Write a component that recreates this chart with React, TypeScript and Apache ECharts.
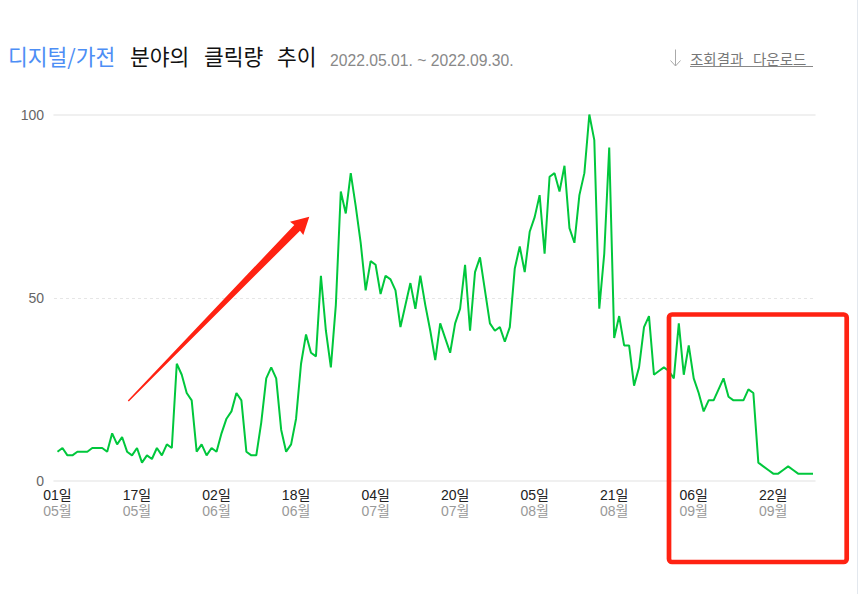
import React, { useEffect, useRef } from "react";
import * as echarts from "echarts";

// Daily click index, 2022-05-01 .. 2022-09-30 (153 days)
const startYear = 2022;
const startMonth = 5; // May
const startDay = 1;
const clicks: number[] = [
  8, 9, 7, 7, 8, 8, 8, 9, 9, 9, 8,
  13, 10, 12, 8, 7, 9, 5, 7, 6, 9, 7, 10, 9,
  32, 29, 24, 22, 8, 10, 7, 9, 8,
  13, 17, 19, 24, 22, 8, 7, 7, 16, 28, 31, 28, 14, 8, 10,
  17, 32, 40, 35, 34, 56, 41, 31, 48,
  79, 73, 84, 75, 65, 52, 60, 59, 51, 56, 55, 52,
  42, 48, 54, 47, 56, 48, 41, 33, 43, 39, 35, 43,
  47, 59, 41, 57, 61, 52, 43, 41, 42, 38, 42,
  58, 64, 57, 68, 72, 78, 62, 83, 84,
  79, 86, 69, 65, 78, 84, 100, 93, 47, 62, 91,
  39, 45, 37, 37, 26, 31, 42, 45, 29, 30, 31,
  30, 28, 43, 29, 37, 28, 24, 19, 22, 22, 25, 28, 23, 22, 22, 22, 25, 24,
  5, 4, 3, 2, 2, 3, 4, 3, 2, 2, 2, 2,
];
const tickIndices: number[] = [0, 16, 32, 48, 64, 80, 96, 112, 128, 144];
const yTicks: number[] = [0, 50, 100];

const titleCategory = "디지털/가전";
const titleWords = ["분야의", "클릭량", "추이"];
const dateRange = "2022.05.01. ~ 2022.09.30.";
const downloadWords = ["조회결과", "다운로드"];

const pad = (n: number) => (n < 10 ? "0" + n : "" + n);
const dates = clicks.map((_, i) => {
  const d = new Date(startYear, startMonth - 1, startDay + i);
  return { day: pad(d.getDate()), month: pad(d.getMonth() + 1) };
});

const KR = '"Noto Sans CJK KR", "Noto Sans", sans-serif';
const LAT = '"Liberation Sans", "Noto Sans CJK KR", sans-serif';
const RED = "#ff2212";

export default function App() {
  const ref = useRef<HTMLDivElement>(null);
  useEffect(() => {
    if (!ref.current) return;
    const chart = echarts.init(ref.current, null, { renderer: "svg" });
    const axisLineStyle = { color: "#ebebeb", width: 1.5 };
    chart.setOption({
      animation: false,
      backgroundColor: "#ffffff",
      grid: { left: 54, right: 44, top: 114.5, bottom: 113 },
      xAxis: [
        {
          type: "value",
          min: -0.7,
          max: 152.4,
          axisLine: { show: true, onZero: false, lineStyle: axisLineStyle },
          axisTick: { show: false },
          splitLine: { show: false },
          axisLabel: {
            customValues: tickIndices,
            margin: 6,
            formatter: (v: number) => {
              const d = dates[Math.round(v)];
              return d ? `{d|${d.day}일}\n{m|${d.month}월}` : "";
            },
            rich: {
              d: { color: "#222", fontSize: 14, lineHeight: 16, fontFamily: LAT },
              m: { color: "#999", fontSize: 14, lineHeight: 16, fontFamily: LAT },
            },
          },
        },
        {
          type: "value",
          position: "top",
          min: -0.7,
          max: 152.4,
          axisLine: { show: true, onZero: false, lineStyle: axisLineStyle },
          axisTick: { show: false },
          axisLabel: { show: false },
          splitLine: { show: false },
        },
      ],
      yAxis: {
        type: "value",
        min: yTicks[0],
        max: yTicks[yTicks.length - 1],
        interval: 50,
        axisLine: { show: false },
        axisTick: { show: false },
        axisLabel: { color: "#666", fontSize: 14, margin: 10, fontFamily: LAT },
        splitLine: {
          show: true,
          lineStyle: {
            color: ["rgba(0,0,0,0)", "#e6e6e6", "rgba(0,0,0,0)"],
            type: [3, 3],
            width: 1,
          },
        },
      },
      series: [
        {
          type: "line",
          xAxisIndex: 0,
          data: clicks.map((v, i) => [i, v]),
          showSymbol: false,
          symbol: "none",
          silent: true,
          lineStyle: { color: "#00c73c", width: 2 },
        },
      ],
      graphic: [
        // title
        {
          type: "text",
          x: 8,
          y: 55,
          style: { text: titleCategory, fill: "#4d8ef5", font: `21.5px ${KR}`, align: "left", verticalAlign: "middle" },
        },
        {
          type: "text",
          x: 130,
          y: 55,
          style: { text: titleWords[0], fill: "#111", font: `21.5px ${KR}`, align: "left", verticalAlign: "middle" },
        },
        {
          type: "text",
          x: 204,
          y: 55,
          style: { text: titleWords[1], fill: "#111", font: `21.5px ${KR}`, align: "left", verticalAlign: "middle" },
        },
        {
          type: "text",
          x: 277,
          y: 55,
          style: { text: titleWords[2], fill: "#111", font: `21.5px ${KR}`, align: "left", verticalAlign: "middle" },
        },
        {
          type: "text",
          x: 330,
          y: 60,
          style: { text: dateRange, fill: "#888", font: `15.7px ${LAT}`, align: "left", verticalAlign: "middle" },
        },
        // download link
        {
          type: "polyline",
          shape: { points: [[675.5, 49.5], [675.5, 66]] },
          style: { stroke: "#aaa", lineWidth: 1, fill: "none" },
        },
        {
          type: "polyline",
          shape: { points: [[670.5, 60.5], [675.5, 66], [680.5, 60.5]] },
          style: { stroke: "#aaa", lineWidth: 1, fill: "none" },
        },
        {
          type: "text",
          x: 690,
          y: 58.5,
          style: { text: downloadWords[0], fill: "#777", font: `14.5px ${KR}`, align: "left", verticalAlign: "middle" },
        },
        {
          type: "text",
          x: 753,
          y: 58.5,
          style: { text: downloadWords[1], fill: "#777", font: `14.5px ${KR}`, align: "left", verticalAlign: "middle" },
        },
        {
          type: "line",
          shape: { x1: 690, y1: 66.5, x2: 813, y2: 66.5 },
          style: { stroke: "#888", lineWidth: 1 },
        },
        // red arrow annotation
        {
          type: "polygon",
          shape: {
            points: [
              [128.8, 401.5],
              [300, 230.7],
              [303.3, 235],
              [309.3, 216.7],
              [290, 221.7],
              [294.3, 225],
              [127.8, 400.5],
            ],
          },
          style: { fill: RED },
          z: 100,
        },
        // red box annotation
        {
          type: "rect",
          shape: { x: 669, y: 314.5, width: 177.7, height: 247.5, r: 3 },
          style: { stroke: RED, lineWidth: 4.7, fill: "none" },
          z: 100,
        },
        // right edge line
        {
          type: "line",
          shape: { x1: 857.5, y1: 0, x2: 857.5, y2: 594 },
          style: { stroke: "#e3e8ee", lineWidth: 1 },
        },
      ],
    });
    return () => chart.dispose();
  }, []);
  return (
    <div
      ref={ref}
      style={{ position: "absolute", left: 0, top: 0, width: 859, height: 594, background: "#fff" }}
    />
  );
}
